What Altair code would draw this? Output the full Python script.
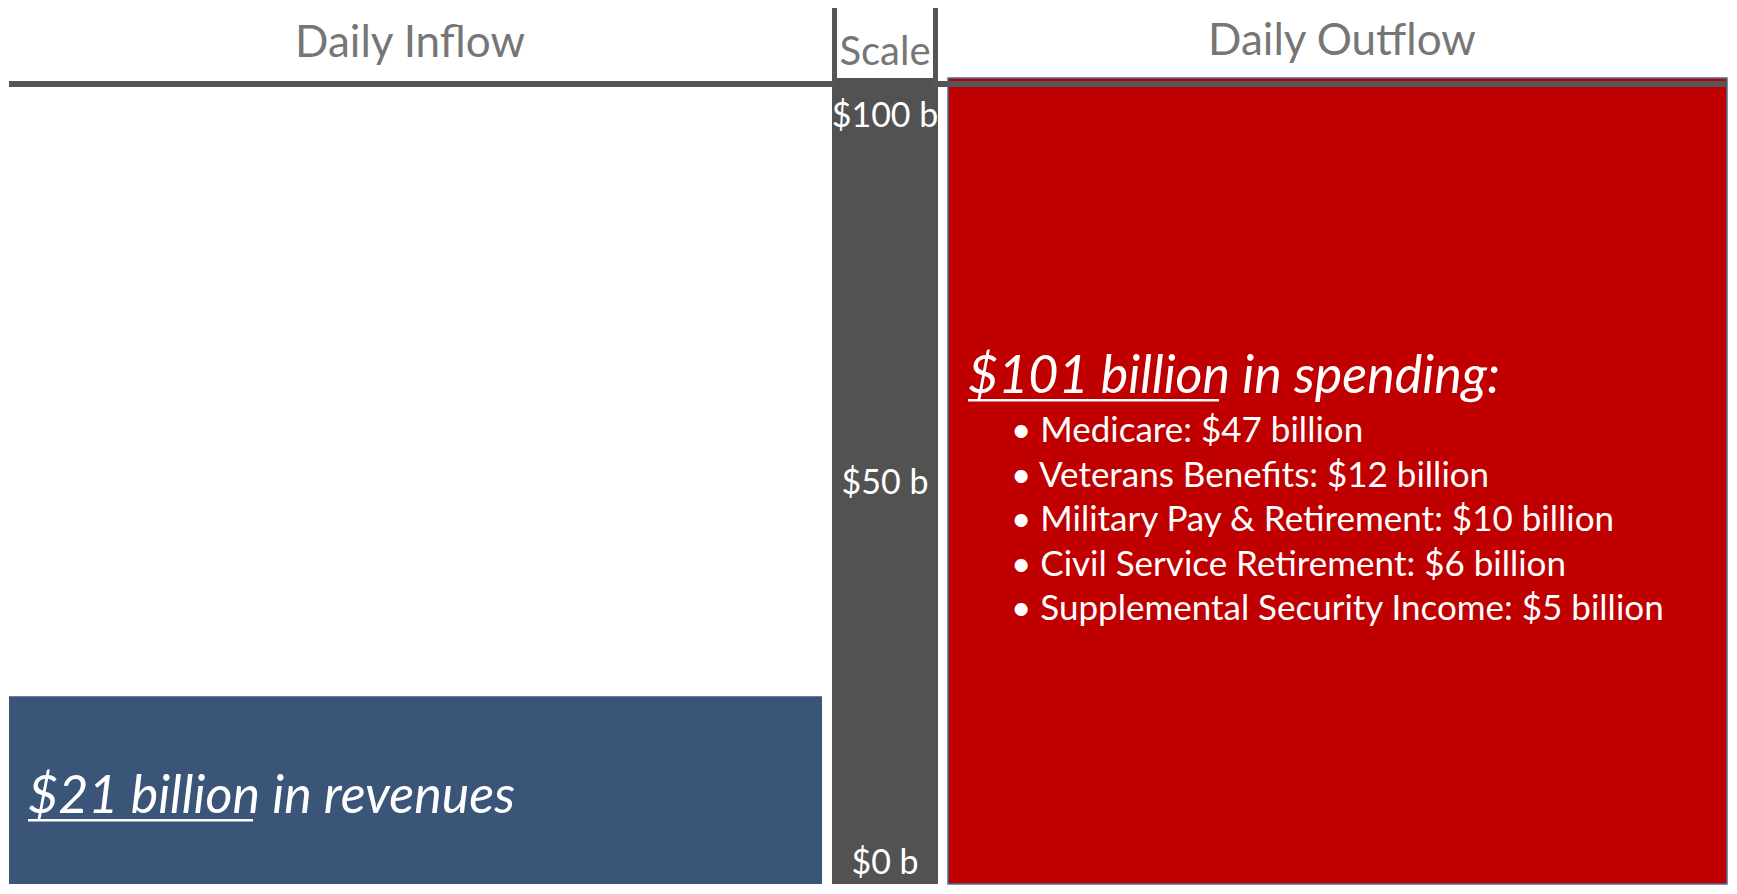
import altair as alt
import pandas as pd

# ---------------- data ----------------
panel_titles = ["Daily Inflow", "Scale", "Daily Outflow"]
flow_sides = ["Daily Inflow", "Daily Outflow"]
flow_values = [21, 101]                      # $ billion per day
flow_suffix = ["in revenues", "in spending:"]

scale_ticks = [0, 50, 100]
scale_labels = ["$0 b", "$50 b", "$100 b"]

spend_items = ["Medicare", "Veterans Benefits", "Military Pay & Retirement",
               "Civil Service Retirement", "Supplemental Security Income"]
spend_values = [47, 12, 10, 6, 5]

# ---------------- style ----------------
FONT = "Lato"
H = 806
WA, WB, WC = 813, 106, 779
GAP = 10
RULE_GRAY = "#555555"
TEXT_GRAY = "#767676"
SCALE_GRAY = "#525252"
BLUE = "#3B5579"
RED = "#C00000"
CAP_SIZE = 52
ITEM_SIZE = 35
LABEL_NUDGE = {0: 6, 50: 12, 100: 31}   # vertical nudge of scale labels (px)

yscale = alt.Scale(domain=[-3.3, 101], nice=False, zero=False)
xband = alt.Scale(paddingInner=0, paddingOuter=0)

flows = pd.DataFrame({
    "side": flow_sides,
    "value": flow_values,
    "caption": [f"${v} billion {s}" for v, s in zip(flow_values, flow_suffix)],
})
scale_df = pd.DataFrame({"tick": scale_ticks, "label": scale_labels})
spend = pd.DataFrame({
    "item": spend_items,
    "value": spend_values,
    "label": [f"\u2022 {n}: ${v} billion" for n, v in zip(spend_items, spend_values)],
})


def header_bar(base, x0, x1):
    return base.mark_rect(color=RULE_GRAY).encode(
        x=alt.value(x0), x2=alt.value(x1), y=alt.value(3), y2=alt.value(9))


# ---------------- panel A: inflow ----------------
a_base = alt.Chart(flows).transform_filter(alt.datum.side == flow_sides[0])
a_bar = a_base.mark_bar(color=BLUE).encode(
    x=alt.X("side:N", axis=None, scale=xband),
    y=alt.Y("value:Q", scale=yscale, axis=None, stack=None),
    y2=alt.value(H),
)
a_rule = header_bar(a_base, 0, WA + GAP)
a_title = a_base.mark_text(font=FONT, fontSize=44, color=TEXT_GRAY,
                           align="center", baseline="alphabetic").encode(
    x=alt.value(401), y=alt.value(-21), text=alt.value(panel_titles[0]))
a_caption = a_base.mark_text(font=FONT, fontSize=CAP_SIZE, fontStyle="italic", color="white",
                             align="left", baseline="alphabetic").encode(
    x=alt.value(19), y=alt.value(735), text="caption:N")
a_under = a_base.mark_rect(color="white").encode(
    x=alt.value(19), x2=alt.value(244), y=alt.value(741), y2=alt.value(743.5))
panel_a = alt.layer(a_bar, a_rule, a_title, a_caption, a_under).properties(
    width=WA, height=H)

# ---------------- panel B: scale ----------------
b_base = alt.Chart(scale_df)
b_labels = [
    b_base.transform_filter(alt.datum.tick == t).mark_text(
        font=FONT, fontSize=34, color="white", align="center", baseline="middle",
        dy=LABEL_NUDGE[t]).encode(
        x=alt.value(WB / 2), y=alt.Y("tick:Q", scale=yscale, axis=None), text="label:N")
    for t in scale_ticks
]
b_one = b_base.transform_filter("datum.tick == 0")
b_left = b_one.mark_rect(color=RULE_GRAY).encode(
    x=alt.value(0), x2=alt.value(5), y=alt.value(-70), y2=alt.value(9))
b_right = b_one.mark_rect(color=RULE_GRAY).encode(
    x=alt.value(WB - 5), x2=alt.value(WB), y=alt.value(-70), y2=alt.value(9))
b_title = b_one.mark_text(font=FONT, fontSize=40, color=TEXT_GRAY,
                          align="center", baseline="alphabetic").encode(
    x=alt.value(WB / 2), y=alt.value(-13), text=alt.value(panel_titles[1]))
panel_b = alt.layer(*b_labels, b_left, b_right, b_title).properties(
    width=WB, height=H, view=alt.ViewBackground(fill=SCALE_GRAY, stroke=None))

# ---------------- panel C: outflow ----------------
c_base = alt.Chart(flows).transform_filter(alt.datum.side == flow_sides[1])
c_bar = c_base.mark_bar(color=RED, stroke="#41719C", strokeWidth=1.5).encode(
    x=alt.X("side:N", axis=None, scale=xband),
    y=alt.Y("value:Q", scale=yscale, axis=None, stack=None),
    y2=alt.value(H),
)
c_rule = header_bar(c_base, -GAP, WC)
c_title = c_base.mark_text(font=FONT, fontSize=44, color=TEXT_GRAY,
                           align="center", baseline="alphabetic").encode(
    x=alt.value(394), y=alt.value(-23), text=alt.value(panel_titles[2]))
c_caption = c_base.mark_text(font=FONT, fontSize=CAP_SIZE, fontStyle="italic", color="white",
                             align="left", baseline="alphabetic").encode(
    x=alt.value(20), y=alt.value(315), text="caption:N")
c_under = c_base.mark_rect(color="white").encode(
    x=alt.value(20), x2=alt.value(271), y=alt.value(321), y2=alt.value(323.5))
c_items = alt.Chart(spend).mark_text(font=FONT, fontSize=ITEM_SIZE, color="white",
                                     align="left", baseline="alphabetic").encode(
    x=alt.value(63),
    y=alt.Y("item:N", sort=None, axis=None,
            scale=alt.Scale(range=[364, 542], padding=0)),
    text="label:N",
)
panel_c = alt.layer(c_bar, c_rule, c_title, c_caption, c_under, c_items).resolve_scale(
    y="independent").properties(width=WC, height=H)

chart = alt.hconcat(panel_a, panel_b, panel_c, spacing=GAP, bounds="flush").properties(
    padding={"left": 1, "top": 0, "right": 0, "bottom": 0},
    background="white",
).configure_view(stroke=None)

chart.save("out.html", embed_options={"renderer": "svg", "actions": False})
